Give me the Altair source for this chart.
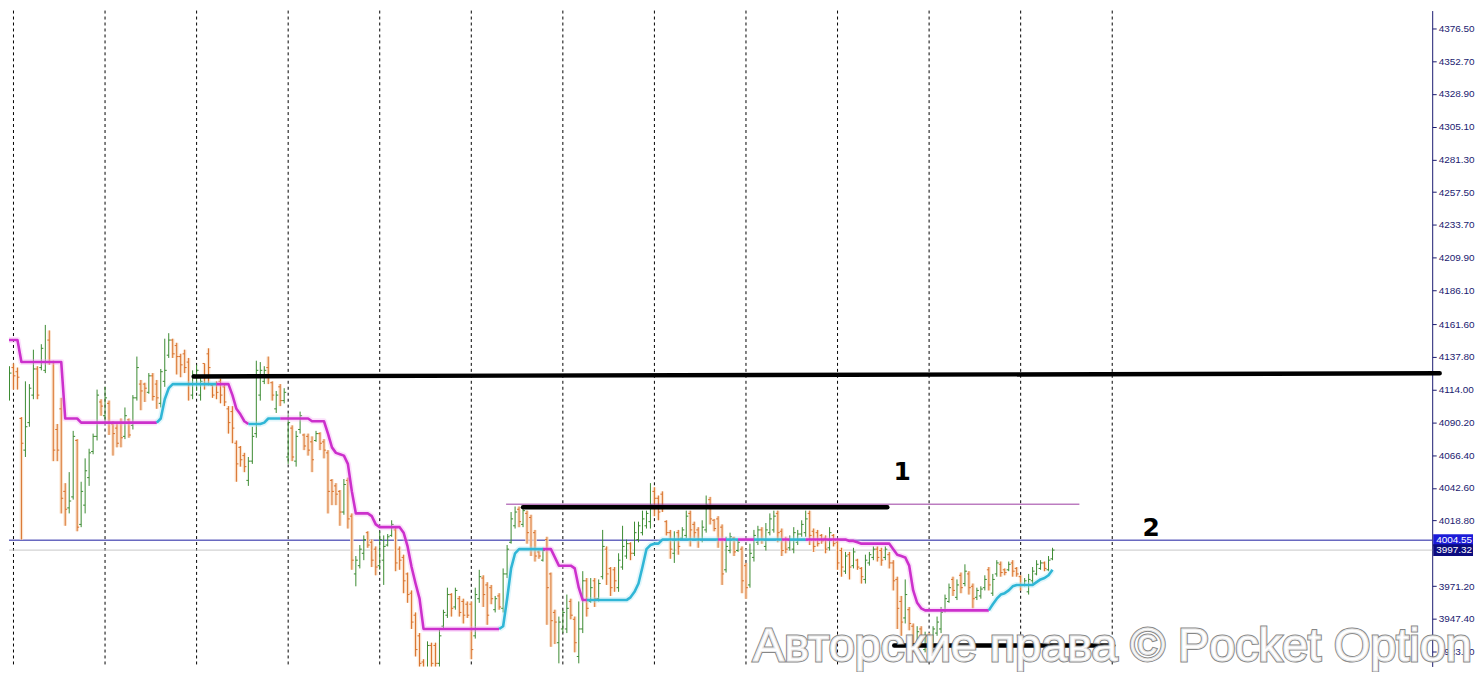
import altair as alt
import pandas as pd

# ---------------- data (prices) ----------------
opens = [4120, 4110, 4130, 4127, 4093, 4070, 4090, 4110, 4129, 4130, 4128, 4150, 4134, 4085, 4100, 4040, 4028, 4036, 4077, 4016,
         4030, 4050, 4069, 4080, 4105, 4095, 4104, 4089, 4086, 4090, 4080, 4092, 4088, 4108, 4118, 4118, 4112, 4124, 4118, 4104,
         4120, 4139, 4150, 4146, 4138, 4140, 4134, 4110, 4118, 4110, 4133, 4140, 4117, 4118, 4120, 4116, 4100, 4098, 4075, 4072,
         4066, 4048, 4062, 4082, 4110, 4120, 4130, 4119, 4100, 4116, 4106, 4065, 4086, 4062, 4085, 4081, 4080, 4076, 4077, 4082,
         4076, 4068, 4048, 4044, 4040, 4025, 4048, 4022, 3980, 3986, 3995, 4010, 4003, 3998, 3986, 3990, 4001, 4008, 4012, 3998,
         3992, 3980, 3966, 3950, 3935, 3916, 3910, 3928, 3928, 3915, 3942, 3950, 3965, 3956, 3962, 3960, 3958, 3958, 3935, 3962,
         3977, 3972, 3970, 3954, 3964, 3955, 3980, 4003, 4015, 4027, 4016, 4024, 4021, 4010, 3996, 3990, 4005, 3980, 3952, 3930,
         3940, 3940, 3960, 3947, 3920, 3940, 3975, 3960, 3975, 3962, 3978, 3998, 3984, 3983, 3970, 3985, 3993, 4002, 3995, 4005,
         4010, 4015, 4018, 4040, 4035, 4038, 4018, 4010, 3995, 4010, 4006, 4008, 4024, 4016, 4012, 4005, 4012, 4034, 4019, 4020,
         4014, 3983, 3997, 4006, 3997, 3998, 3986, 3972, 3992, 4003, 4012, 4000, 4010, 4012, 4024, 4011, 4005, 3999, 3998, 4003,
         4009, 4010, 4024, 4011, 4010, 4008, 4006, 3999, 4008, 4003, 3997, 3982, 3994, 3986, 3990, 3984, 3976, 3988, 3992, 3998,
         3997, 3992, 3994, 3988, 3976, 3960, 3948, 3954, 3942, 3928, 3940, 3925, 3935, 3932, 3937, 3940, 3954, 3960, 3976, 3963,
         3979, 3973, 3980, 3971, 3963, 3964, 3970, 3983, 3966, 3980, 3987, 3983, 3983, 3988, 3984, 3978, 3972, 3967, 3975, 3980,
         3984, 3988, 3983, 3991]
highs = [4123, 4131, 4133, 4130, 4094, 4120, 4118, 4143, 4131, 4147, 4161, 4157, 4135, 4089, 4108, 4046, 4054, 4084, 4078, 4047,
         4064, 4071, 4082, 4114, 4107, 4116, 4106, 4091, 4089, 4093, 4101, 4093, 4110, 4138, 4121, 4119, 4126, 4126, 4121, 4129,
         4151, 4155, 4151, 4148, 4140, 4143, 4137, 4128, 4132, 4123, 4133, 4144, 4118, 4120, 4122, 4118, 4102, 4102, 4077, 4073,
         4068, 4065, 4087, 4135, 4134, 4131, 4138, 4120, 4113, 4118, 4115, 4096, 4088, 4084, 4098, 4082, 4082, 4080, 4084, 4083,
         4078, 4070, 4049, 4046, 4041, 4049, 4050, 4024, 3993, 4001, 4008, 4011, 4005, 4000, 4011, 4008, 4009, 4019, 4014, 4000,
         3994, 3981, 3968, 3952, 3937, 3918, 3931, 3930, 3930, 3940, 3954, 3970, 3966, 3970, 3964, 3962, 3960, 3960, 3970, 3983,
         3979, 3974, 3972, 3964, 3966, 3984, 4001, 4025, 4029, 4029, 4030, 4026, 4023, 4012, 3997, 3999, 4007, 3981, 3954, 3949,
         3954, 3965, 3962, 3949, 3960, 3982, 3977, 3977, 3977, 3976, 4012, 4000, 3985, 3985, 3995, 4015, 4005, 4003, 4018, 4018,
         4026, 4026, 4046, 4043, 4037, 4040, 4019, 4012, 4011, 4012, 4014, 4026, 4026, 4018, 4014, 4019, 4037, 4036, 4020, 4022,
         4016, 4007, 4010, 4007, 4005, 4000, 3988, 4002, 4012, 4015, 4014, 4017, 4024, 4026, 4026, 4013, 4007, 4008, 4014, 4012,
         4019, 4026, 4026, 4013, 4012, 4009, 4008, 4014, 4009, 4005, 3999, 3996, 3996, 3999, 3991, 3985, 3994, 3996, 4000, 4000,
         3999, 4000, 3996, 3990, 3978, 3964, 3976, 3956, 3944, 3942, 3942, 3938, 3937, 3942, 3949, 3956, 3965, 3973, 3978, 3976,
         3981, 3987, 3982, 3973, 3970, 3971, 3979, 3985, 3980, 3990, 3989, 3984, 3989, 3990, 3985, 3979, 3977, 3980, 3985, 3990,
         3990, 3989, 3993, 3999]
lows = [4101, 4106, 4114, 4114, 4005, 4065, 4087, 4107, 4107, 4128, 4126, 4132, 4062, 4062, 4024, 4015, 4024, 4034, 4011, 4014,
        4024, 4044, 4067, 4077, 4095, 4090, 4081, 4066, 4072, 4072, 4078, 4079, 4085, 4106, 4099, 4105, 4111, 4106, 4100, 4101,
        4116, 4137, 4137, 4125, 4123, 4126, 4106, 4107, 4113, 4106, 4114, 4117, 4108, 4107, 4104, 4102, 4082, 4075, 4047, 4058,
        4054, 4044, 4060, 4079, 4106, 4118, 4118, 4106, 4097, 4102, 4104, 4060, 4062, 4058, 4082, 4070, 4066, 4054, 4076, 4070,
        4064, 4024, 4030, 4030, 4015, 4023, 4013, 3983, 3971, 3984, 3990, 3999, 3985, 3979, 3983, 3972, 4000, 4007, 3982, 3983,
        3966, 3959, 3940, 3920, 3909, 3907, 3908, 3908, 3908, 3912, 3940, 3948, 3949, 3954, 3949, 3944, 3948, 3918, 3933, 3959,
        3956, 3943, 3958, 3952, 3954, 3952, 3977, 4002, 4013, 4014, 4014, 4002, 3993, 3989, 3991, 3989, 3943, 3927, 3929, 3915,
        3937, 3937, 3947, 3923, 3915, 3937, 3949, 3959, 3956, 3960, 3976, 3972, 3964, 3967, 3967, 3983, 3991, 3990, 3993, 4003,
        4008, 4013, 4013, 4022, 4019, 4025, 4008, 3991, 3988, 3994, 4005, 4006, 4000, 4006, 3999, 4003, 4010, 4016, 4011, 3999,
        3972, 3981, 3995, 3993, 3996, 3966, 3962, 3970, 3989, 4001, 4002, 3997, 4008, 4010, 4003, 3993, 3995, 3997, 3995, 4001,
        4007, 4007, 4001, 3996, 4000, 4002, 3995, 3997, 4000, 3983, 3978, 3980, 3976, 3984, 3983, 3973, 3973, 3986, 3990, 3989,
        3986, 3990, 3984, 3968, 3940, 3935, 3944, 3939, 3923, 3925, 3932, 3923, 3927, 3930, 3935, 3937, 3952, 3959, 3964, 3961,
        3966, 3971, 3965, 3955, 3961, 3962, 3968, 3968, 3964, 3978, 3978, 3979, 3982, 3978, 3978, 3968, 3971, 3965, 3973, 3979,
        3983, 3982, 3982, 3990]
closes = [4115, 4126, 4124, 4123, 4075, 4087, 4115, 4129, 4110, 4144, 4134, 4134, 4070, 4070, 4035, 4027, 4033, 4080, 4014, 4040,
          4055, 4068, 4080, 4110, 4102, 4108, 4090, 4082, 4075, 4079, 4095, 4081, 4108, 4130, 4113, 4115, 4124, 4109, 4108, 4127,
          4128, 4150, 4140, 4138, 4132, 4130, 4118, 4125, 4128, 4120, 4118, 4130, 4110, 4112, 4110, 4105, 4090, 4086, 4060, 4063,
          4058, 4062, 4080, 4128, 4128, 4128, 4124, 4110, 4110, 4106, 4112, 4090, 4065, 4080, 4095, 4073, 4070, 4063, 4082, 4075,
          4070, 4040, 4040, 4038, 4025, 4045, 4020, 3990, 3990, 3998, 4005, 4001, 3990, 3985, 4005, 4000, 4007, 4016, 3988, 3990,
          3975, 3965, 3945, 3925, 3915, 3910, 3928, 3915, 3915, 3935, 3952, 3965, 3955, 3968, 3952, 3950, 3950, 3925, 3965, 3978,
          3965, 3950, 3962, 3962, 3956, 3980, 3998, 4020, 4025, 4018, 4026, 4010, 3998, 3993, 3993, 3997, 3970, 3946, 3945, 3945,
          3952, 3955, 3950, 3930, 3940, 3975, 3955, 3970, 3962, 3973, 4000, 3980, 3970, 3975, 3990, 4000, 4002, 3995, 4010, 4015,
          4020, 4024, 4030, 4035, 4025, 4028, 4010, 3998, 4005, 4000, 4012, 4022, 4012, 4010, 4005, 4014, 4030, 4020, 4013, 4005,
          3980, 4000, 4007, 3996, 4003, 3975, 3970, 3995, 4008, 4012, 4005, 4012, 4020, 4022, 4010, 3997, 3998, 4005, 4010, 4009,
          4016, 4020, 4008, 4000, 4002, 4004, 3998, 4010, 4002, 3988, 3985, 3993, 3985, 3996, 3985, 3978, 3990, 3994, 3998, 3992,
          3990, 3998, 3988, 3975, 3955, 3945, 3965, 3944, 3928, 3938, 3934, 3935, 3929, 3940, 3945, 3952, 3962, 3970, 3968, 3972,
          3970, 3982, 3970, 3962, 3968, 3969, 3976, 3972, 3976, 3988, 3981, 3981, 3987, 3982, 3980, 3972, 3975, 3976, 3982, 3987,
          3988, 3984, 3990, 3997.32]

# step indicator (one value per bar) and its colour state runs
ind_vals = ([4150] * 4 + [4134] * 11 + [4093] * 4 + [4090] * 20 + [4093, 4107, 4115] + [4118] * 15 +
            [4110, 4100, 4096, 4091] + [4089] * 4 + [4090] + [4093] * 11 + [4091] * 4 +
            [4082, 4072, 4068, 4067, 4066, 4060, 4040] + [4024] * 4 + [4022, 4016] + [4014] * 6 +
            [4010, 4000, 3985, 3973, 3962] + [3940] * 20 + [3942, 3962, 3984, 3995] + [3998] * 9 + [3992] +
            [3986] * 4 + [3984, 3970] + [3961] * 12 + [3963, 3967, 3973, 3985, 3998, 4001] + [4002] * 2 +
            [4005] * 47 + [4004] * 2 + [4003] + [4002] * 8 + [3998, 3994, 3993, 3992, 3986, 3968, 3959, 3955] +
            [3953.5] * 17 + [3958, 3962, 3965, 3966, 3968, 3971] + [3972] * 5 + [3974, 3976, 3977, 3979, 3983])
state_runs = [("m", 39), ("c", 15), ("m", 8), ("c", 8), ("m", 55), ("c", 11), ("m", 11), ("c", 33), ("m", 2),
              ("c", 3), ("m", 4), ("c", 7), ("m", 2), ("c", 4), ("m", 46), ("c", 16)]

day_starts = [2, 25, 48, 71, 94, 117, 140, 163, 186, 209, 232, 255, 278]   # bar index of each day separator

tick_vals = [4376.5, 4352.7, 4328.9, 4305.1, 4281.3, 4257.5, 4233.7, 4209.9, 4186.1, 4161.6, 4137.8,
             4114.0, 4090.2, 4066.4, 4042.6, 4018.8, 3971.2, 3947.4, 3923.6]

ask_price = 4004.55
bid_price = 3997.32

# drawn trend lines (bar index, price)
thick_x1 = [47.25, 130.0, 223.25]
thick_x2 = [360.25, 221.5, 278.25]
thick_y1 = [4123.6, 4028.5, 3927.9]
thick_y2 = [4125.8, 4028.5, 3927.9]
thin_x1, thin_x2, thin_y = [125.75], [269.75], [4030.7]

label_texts = ["1", "2"]
label_x = [225.25, 287.75]
label_y = [4053.8, 4013.3]

watermark = "Авторские права © Pocket Option"
wm_x, wm_y = 187.75, 3916.4

# ---------------- frames ----------------
n = len(closes)
bars = pd.DataFrame({"i": list(range(n)), "o": opens, "h": highs, "l": lows, "c": closes})
bars["dir"] = ["up" if c >= o else "down" for o, c in zip(bars["o"], bars["c"])]
bars["il"] = bars["i"] - 0.5
bars["ir"] = bars["i"] + 0.5

states = []
for s, k in state_runs:
    states += [s] * k
rows = []
seg = 0
for i in range(n):
    if i > 0 and states[i] != states[i - 1]:
        seg += 1
        rows.append({"i": i - 1, "v": ind_vals[i - 1], "s": states[i], "seg": seg})
    rows.append({"i": i, "v": ind_vals[i], "s": states[i], "seg": seg})
ind = pd.DataFrame(rows)

W, H = 1430, 659
xs = alt.Scale(domain=[0.875, 358.375], nice=False, zero=False)
ys = alt.Scale(domain=[3912.75, 4389.52], nice=False, zero=False)
navy = "#1a1a70"
yax = alt.Axis(orient="right", values=tick_vals, format=".2f", title=None, grid=False,
               labelFont="Liberation Sans", labelFontSize=10, labelColor=navy, domainColor=navy,
               tickColor=navy, tickSize=4, labelPadding=2, labelOverlap=False, labelFlush=False)

def X(f):
    return alt.X(f, type="quantitative", scale=xs, axis=None)

def Y(f):
    return alt.Y(f, type="quantitative", scale=ys, axis=yax)

base = alt.Chart(bars)

vgrid = alt.Chart(pd.DataFrame({"i": day_starts})).mark_rule(
    color="#000000", strokeWidth=1, strokeDash=[3, 3]).encode(x=X("i"))

hlines = alt.Chart(pd.DataFrame({"p": [ask_price, bid_price], "k": ["ask", "bid"]})).mark_rule(
    strokeWidth=1).encode(
    y=Y("p"),
    color=alt.Color("k:N", scale=alt.Scale(domain=["ask", "bid"], range=["#1a1aa0", "#c8c8c8"]), legend=None))

bar_col = alt.Color("dir:N", scale=alt.Scale(domain=["up", "down"], range=["#3a8a30", "#d8722c"]), legend=None)
halo = base.transform_filter(alt.datum.dir == "down").mark_rule(
    color="#fbe2cc", strokeWidth=3.5, clip=True).encode(x=X("i"), y=Y("l"), y2="h")
hl = base.mark_rule(strokeWidth=1, clip=True).encode(x=X("i"), y=Y("l"), y2="h", color=bar_col)
otick = base.mark_rule(strokeWidth=1, clip=True).encode(x=X("il"), x2="i", y=Y("o"), color=bar_col)
ctick = base.mark_rule(strokeWidth=1, clip=True).encode(x=X("i"), x2="ir", y=Y("c"), color=bar_col)

ind_halo = alt.Chart(ind).mark_line(strokeWidth=6, clip=True, strokeJoin="round", opacity=0.35).encode(
    x=X("i"), y=Y("v"), detail="seg:N",
    color=alt.Color("s:N", scale=alt.Scale(domain=["m", "c"], range=["#f4a8f4", "#a8e4f4"]), legend=None))
ind_line = alt.Chart(ind).mark_line(strokeWidth=2.6, clip=True, strokeJoin="round").encode(
    x=X("i"), y=Y("v"), detail="seg:N",
    color=alt.Color("s:N", scale=alt.Scale(domain=["m", "c"], range=["#cc30cc", "#30b6d6"]), legend=None))

thin = alt.Chart(pd.DataFrame({"x1": thin_x1, "x2": thin_x2, "y": thin_y})).mark_rule(
    color="#9a3aa0", strokeWidth=1).encode(x=X("x1"), x2="x2", y=Y("y"))
thick = alt.Chart(pd.DataFrame({"x1": thick_x1, "x2": thick_x2, "y1": thick_y1, "y2": thick_y2})).mark_rule(
    color="#000000", strokeWidth=4.5, strokeCap="round").encode(x=X("x1"), x2="x2", y=Y("y1"), y2="y2")

nums = alt.Chart(pd.DataFrame({"t": label_texts, "x": label_x, "y": label_y})).mark_text(
    font="DejaVu Sans", fontWeight="bold", fontSize=25, color="#000000", align="center", baseline="middle").encode(
    x=X("x"), y=Y("y"), text="t:N")

wm_df = pd.DataFrame({"t": [watermark], "x": [wm_x], "y": [wm_y]})
wm_outer = alt.Chart(wm_df).mark_text(
    font="Liberation Sans", fontSize=47, align="left", baseline="alphabetic",
    fill="#ffffff", stroke="#7a7a7a", strokeWidth=3, opacity=0.9).encode(x=X("x"), y=Y("y"), text="t:N")
wm_inner = alt.Chart(wm_df).mark_text(
    font="Liberation Sans", fontSize=47, align="left", baseline="alphabetic",
    fill="#ffffff", stroke="#e8e8e8", strokeWidth=1).encode(x=X("x"), y=Y("y"), text="t:N")

hh = 6 / 1.3822
box_df = pd.DataFrame({"p": [ask_price, bid_price], "t": [f"{ask_price:.2f}", f"{bid_price:.2f}"],
                       "k": ["ask", "bid"]})
box_df["lo"] = box_df["p"] - hh
box_df["hi"] = box_df["p"] + hh
boxes = alt.Chart(box_df).mark_rect().encode(
    x=alt.value(W + 1), x2=alt.value(W + 41), y=Y("lo"), y2="hi",
    color=alt.Color("k:N", scale=alt.Scale(domain=["ask", "bid"], range=["#1c1cd8", "#0c0c80"]), legend=None))
box_txt = alt.Chart(box_df).mark_text(
    font="Liberation Sans", fontSize=10, color="#ffffff", align="left", baseline="middle").encode(
    x=alt.value(W + 4), y=Y("p"), text="t:N")

chart = alt.layer(
    vgrid, hlines, halo, hl, otick, ctick, ind_halo, ind_line, thin, thick, nums,
    wm_outer, wm_inner, boxes, box_txt
).resolve_scale(color="independent").properties(
    width=W, height=H, padding=0, background="#ffffff"
).configure_view(stroke=None)

chart.save("out.html", embed_options={"renderer": "svg", "actions": False})
